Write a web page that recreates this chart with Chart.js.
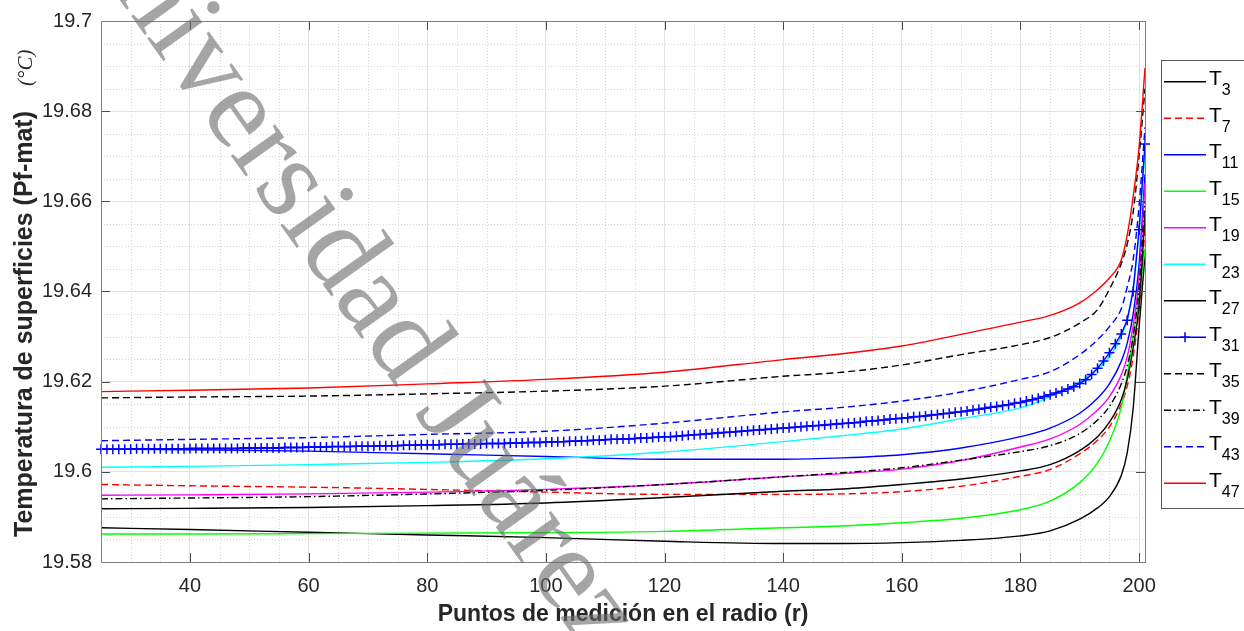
<!DOCTYPE html>
<html lang="es">
<head>
<meta charset="utf-8">
<title>Temperatura de superficies (Pf-mat)</title>
<script src="https://cdn.jsdelivr.net/npm/chart.js@4.4.1/dist/chart.umd.min.js"></script>
<style>
  html, body { margin: 0; padding: 0; background: #fff; }
  #grafica { display: block; }
</style>
</head>
<body>
<canvas id="grafica" width="1244" height="631"></canvas>
<script>
// puntos de medición en el radio (r) usados para las curvas suaves
const radio = [25, 40, 60, 80, 100, 120, 140, 150, 160, 170, 180, 185, 190, 193, 195, 197, 198, 199, 200, 201];

// T31 se dibuja con marcador en cada punto del radio
const radioT31 = [
  25, 26, 27, 28, 29, 30, 31, 32, 33, 34,
  35, 36, 37, 38, 39, 40, 41, 42, 43, 44,
  45, 46, 47, 48, 49, 50, 51, 52, 53, 54,
  55, 56, 57, 58, 59, 60, 61, 62, 63, 64,
  65, 66, 67, 68, 69, 70, 71, 72, 73, 74,
  75, 76, 77, 78, 79, 80, 81, 82, 83, 84,
  85, 86, 87, 88, 89, 90, 91, 92, 93, 94,
  95, 96, 97, 98, 99, 100, 101, 102, 103, 104,
  105, 106, 107, 108, 109, 110, 111, 112, 113, 114,
  115, 116, 117, 118, 119, 120, 121, 122, 123, 124,
  125, 126, 127, 128, 129, 130, 131, 132, 133, 134,
  135, 136, 137, 138, 139, 140, 141, 142, 143, 144,
  145, 146, 147, 148, 149, 150, 151, 152, 153, 154,
  155, 156, 157, 158, 159, 160, 161, 162, 163, 164,
  165, 166, 167, 168, 169, 170, 171, 172, 173, 174,
  175, 176, 177, 178, 179, 180, 181, 182, 183, 184,
  185, 186, 187, 188, 189, 190, 191, 192, 193, 194,
  195, 196, 197, 198, 199, 200, 201
];

// temperaturas (°C)
const T3  = [19.5876, 19.5872, 19.5866, 19.5860, 19.5854, 19.5846, 19.5841, 19.5841, 19.5843, 19.5848, 19.5858, 19.5869, 19.5895, 19.5920, 19.5945, 19.5992, 19.6042, 19.6140, 19.6320, 19.6480];
const T7  = [19.5972, 19.5969, 19.5966, 19.5961, 19.5955, 19.5950, 19.5950, 19.5951, 19.5956, 19.5968, 19.5990, 19.6005, 19.6040, 19.6070, 19.6100, 19.6150, 19.6190, 19.6255, 19.6360, 19.6540];
const T11 = [19.6050, 19.6049, 19.6046, 19.6040, 19.6034, 19.6028, 19.6028, 19.6031, 19.6038, 19.6053, 19.6078, 19.6097, 19.6130, 19.6163, 19.6195, 19.6245, 19.6285, 19.6350, 19.6460, 19.6660];
const T15 = [19.5862, 19.5862, 19.5863, 19.5864, 19.5865, 19.5868, 19.5876, 19.5880, 19.5887, 19.5897, 19.5916, 19.5935, 19.5976, 19.6020, 19.6068, 19.6143, 19.6215, 19.6300, 19.6390, 19.6495];
const T19 = [19.5948, 19.5949, 19.5951, 19.5955, 19.5961, 19.5972, 19.5989, 19.5996, 19.6006, 19.6025, 19.6055, 19.6073, 19.6105, 19.6137, 19.6167, 19.6215, 19.6255, 19.6325, 19.6430, 19.6640];
const T23 = [19.6010, 19.6012, 19.6016, 19.6021, 19.6029, 19.6044, 19.6067, 19.6080, 19.6095, 19.6118, 19.6142, 19.6167, 19.6200, 19.6228, 19.6255, 19.6300, 19.6340, 19.6410, 19.6530, 19.6710];
const T27 = [19.5918, 19.5919, 19.5921, 19.5925, 19.5931, 19.5943, 19.5957, 19.5962, 19.5972, 19.5984, 19.6002, 19.6016, 19.6047, 19.6078, 19.6110, 19.6160, 19.6205, 19.6275, 19.6370, 19.6570];
const T31 = [
  19.6050, 19.6050, 19.6050, 19.6050, 19.6050, 19.6050, 19.6051, 19.6051, 19.6051, 19.6051,
  19.6051, 19.6051, 19.6051, 19.6051, 19.6051, 19.6052, 19.6052, 19.6052, 19.6052, 19.6052,
  19.6052, 19.6052, 19.6052, 19.6052, 19.6053, 19.6053, 19.6053, 19.6053, 19.6053, 19.6053,
  19.6053, 19.6054, 19.6054, 19.6054, 19.6054, 19.6055, 19.6055, 19.6055, 19.6055, 19.6056,
  19.6056, 19.6056, 19.6056, 19.6057, 19.6057, 19.6057, 19.6057, 19.6058, 19.6058, 19.6058,
  19.6058, 19.6059, 19.6059, 19.6059, 19.6060, 19.6060, 19.6060, 19.6060, 19.6061, 19.6061,
  19.6061, 19.6062, 19.6062, 19.6062, 19.6062, 19.6063, 19.6063, 19.6063, 19.6063, 19.6064,
  19.6064, 19.6064, 19.6065, 19.6065, 19.6065, 19.6066, 19.6066, 19.6067, 19.6067, 19.6068,
  19.6068, 19.6069, 19.6069, 19.6070, 19.6070, 19.6071, 19.6072, 19.6072, 19.6073, 19.6073,
  19.6074, 19.6075, 19.6075, 19.6076, 19.6077, 19.6078, 19.6078, 19.6079, 19.6080, 19.6081,
  19.6082, 19.6083, 19.6084, 19.6085, 19.6086, 19.6087, 19.6088, 19.6089, 19.6090, 19.6091,
  19.6092, 19.6093, 19.6094, 19.6095, 19.6096, 19.6097, 19.6098, 19.6099, 19.6100, 19.6101,
  19.6102, 19.6103, 19.6104, 19.6105, 19.6106, 19.6107, 19.6108, 19.6109, 19.6110, 19.6112,
  19.6113, 19.6114, 19.6115, 19.6117, 19.6118, 19.6119, 19.6120, 19.6122, 19.6123, 19.6124,
  19.6126, 19.6127, 19.6129, 19.6130, 19.6132, 19.6133, 19.6135, 19.6137, 19.6139, 19.6141,
  19.6143, 19.6145, 19.6147, 19.6149, 19.6152, 19.6154, 19.6157, 19.6160, 19.6163, 19.6167,
  19.6171, 19.6175, 19.6179, 19.6184, 19.6189, 19.6196, 19.6204, 19.6216, 19.6230, 19.6246,
  19.6264, 19.6284, 19.6306, 19.6336, 19.6400, 19.6537, 19.6727
];
const T35 = [19.6164, 19.6166, 19.6168, 19.6173, 19.6179, 19.6190, 19.6212, 19.6221, 19.6237, 19.6260, 19.6282, 19.6298, 19.6330, 19.6360, 19.6405, 19.6462, 19.6505, 19.6575, 19.6700, 19.6850];
const T39 = [19.5940, 19.5942, 19.5945, 19.5951, 19.5959, 19.5972, 19.5989, 19.5998, 19.6009, 19.6026, 19.6045, 19.6058, 19.6085, 19.6115, 19.6145, 19.6195, 19.6235, 19.6300, 19.6410, 19.6600];
const T43 = [19.6069, 19.6072, 19.6076, 19.6083, 19.6090, 19.6108, 19.6133, 19.6143, 19.6157, 19.6177, 19.6205, 19.6222, 19.6260, 19.6293, 19.6322, 19.6362, 19.6410, 19.6470, 19.6590, 19.6764];
const T47 = [19.6178, 19.6181, 19.6186, 19.6195, 19.6205, 19.6221, 19.6249, 19.6262, 19.6279, 19.6305, 19.6332, 19.6347, 19.6375, 19.6404, 19.6430, 19.6470, 19.6525, 19.6610, 19.6720, 19.6896];

// marcas de los ejes
const ticksX = [40, 60, 80, 100, 120, 140, 160, 180, 200];
const ticksY = [19.58, 19.6, 19.62, 19.64, 19.66, 19.68, 19.7];

const FUENTE = '"Liberation Sans", Arial, Helvetica, sans-serif';
const DISCONTINUA = [7, 4];
const PUNTO_RAYA = [7, 3, 1.5, 3];

function serie(nombre, xs, ys, color, dash, extra) {
  return Object.assign({
    label: nombre,
    data: xs.map((x, i) => ({ x: x, y: ys[i] })),
    borderColor: color,
    backgroundColor: color,
    borderWidth: 1.4,
    borderDash: dash,
    pointRadius: 0,
    pointHoverRadius: 0,
    cubicInterpolationMode: 'monotone',
    fill: false
  }, extra || {});
}

const series = [
  serie('3',  radio, T3,  '#000000', []),
  serie('7',  radio, T7,  '#ff0000', DISCONTINUA),
  serie('11', radio, T11, '#0000ff', []),
  serie('15', radio, T15, '#00ff00', []),
  serie('19', radio, T19, '#ff00ff', []),
  serie('23', radio, T23, '#00ffff', []),
  serie('27', radio, T27, '#000000', []),
  serie('31', radioT31, T31, '#0000ff', [], {
    pointStyle: 'cross', pointRadius: 5, pointBorderWidth: 1.5,
    cubicInterpolationMode: 'default', tension: 0, clip: false
  }),
  serie('35', radio, T35, '#000000', DISCONTINUA),
  serie('39', radio, T39, '#000000', PUNTO_RAYA),
  serie('43', radio, T43, '#0000ff', DISCONTINUA),
  serie('47', radio, T47, '#ff0000', [])
];
// la última serie trazada queda encima
series.forEach((s, i) => { s.order = series.length - i; });

// rejilla menor, caja con marcas interiores, títulos, leyenda y marca de agua
const estiloMatlab = {
  id: 'estiloMatlab',
  beforeDatasetsDraw(chart) {
    const { ctx, chartArea: a, scales: { x, y } } = chart;
    ctx.save();
    ctx.strokeStyle = '#d6d6d6';
    ctx.lineWidth = 1;
    ctx.setLineDash([1, 2]);
    ctx.beginPath();
    for (let v = 30; v < 201; v += 5) {
      if (v % 20 === 0) continue;
      const px = Math.round(x.getPixelForValue(v)) + 0.5;
      ctx.moveTo(px, a.top);
      ctx.lineTo(px, a.bottom);
    }
    for (let k = 1; k < 24; k++) {
      if (k % 4 === 0) continue;
      const py = Math.round(y.getPixelForValue(19.58 + k * 0.005)) + 0.5;
      ctx.moveTo(a.left, py);
      ctx.lineTo(a.right, py);
    }
    ctx.stroke();
    ctx.restore();
  },
  afterDatasetsDraw(chart) {
    const { ctx, chartArea: a, scales: { x, y } } = chart;
    ctx.save();
    ctx.setLineDash([]);
    ctx.lineWidth = 1;
    ctx.strokeStyle = '#4a4a4a';
    ctx.beginPath();
    ticksX.forEach(v => {
      const px = Math.round(x.getPixelForValue(v)) + 0.5;
      ctx.moveTo(px, a.bottom); ctx.lineTo(px, a.bottom - 9);
      ctx.moveTo(px, a.top); ctx.lineTo(px, a.top + 9);
    });
    ticksY.forEach(v => {
      const py = Math.round(y.getPixelForValue(v)) + 0.5;
      ctx.moveTo(a.left, py); ctx.lineTo(a.left + 9, py);
      ctx.moveTo(a.right, py); ctx.lineTo(a.right - 9, py);
    });
    ctx.stroke();
    ctx.strokeStyle = '#808080';
    ctx.strokeRect(Math.round(a.left) + 0.5, Math.round(a.top) + 0.5,
      Math.round(a.right - a.left), Math.round(a.bottom - a.top));
    ctx.restore();
  },
  afterDraw(chart) {
    const ctx = chart.ctx;
    ctx.save();
    ctx.fillStyle = '#262626';

    // título del eje x
    ctx.font = 'bold 23px ' + FUENTE;
    ctx.textAlign = 'center';
    ctx.textBaseline = 'alphabetic';
    ctx.fillText('Puntos de medición en el radio (r)', 623, 621);

    // título del eje y
    ctx.save();
    ctx.translate(32, 0);
    ctx.rotate(-Math.PI / 2);
    ctx.font = 'bold 25px ' + FUENTE;
    ctx.textAlign = 'center';
    ctx.fillText('Temperatura de superficies (Pf-mat)', -324, 0);
    ctx.font = 'italic 21px "Liberation Serif", "Times New Roman", serif';
    ctx.textAlign = 'left';
    ctx.fillText('(°C)', -86, 0);
    ctx.restore();

    // leyenda
    ctx.fillStyle = '#ffffff';
    ctx.fillRect(1161, 60, 100, 448);
    ctx.strokeStyle = '#595959';
    ctx.lineWidth = 1;
    ctx.strokeRect(1161.5, 60.5, 100, 448);
    chart.data.datasets.forEach((ds, i) => {
      const yc = 81.7 + i * 36.5;
      ctx.strokeStyle = ds.borderColor;
      ctx.lineWidth = 1.4;
      ctx.setLineDash(ds.borderDash);
      ctx.beginPath();
      ctx.moveTo(1164, yc);
      ctx.lineTo(1206, yc);
      ctx.stroke();
      ctx.setLineDash([]);
      if (ds.pointStyle === 'cross') {
        ctx.lineWidth = 1.5;
        ctx.beginPath();
        ctx.moveTo(1185, yc - 5); ctx.lineTo(1185, yc + 5);
        ctx.moveTo(1180, yc); ctx.lineTo(1190, yc);
        ctx.stroke();
      }
      ctx.fillStyle = '#000000';
      ctx.textAlign = 'left';
      ctx.font = '21px ' + FUENTE;
      ctx.fillText('T', 1209, yc + 3.5);
      const wT = ctx.measureText('T').width;
      ctx.font = '16px ' + FUENTE;
      ctx.fillText(ds.label, 1209 + wT, yc + 13.5);
    });

    // marca de agua
    ctx.save();
    ctx.translate(62, -81);
    ctx.rotate(54.5 * Math.PI / 180);
    ctx.font = '118px "Liberation Serif", "Times New Roman", serif';
    ctx.fillStyle = 'rgba(105, 105, 105, 0.6)';
    ctx.textAlign = 'left';
    ctx.fillText('Universidad Juárez', 0, 0);
    ctx.restore();

    ctx.restore();
  }
};

new Chart(document.getElementById('grafica').getContext('2d'), {
  type: 'line',
  data: { datasets: series },
  plugins: [estiloMatlab],
  options: {
    responsive: false,
    devicePixelRatio: 1,
    animation: false,
    events: [],
    layout: { padding: { left: 0, top: 18, right: 99, bottom: 0 } },
    plugins: {
      legend: { display: false },
      tooltip: { enabled: false },
      title: { display: false }
    },
    scales: {
      x: {
        type: 'linear',
        min: 25,
        max: 201,
        afterFit(scale) { scale.height = 69; },
        border: { display: false },
        grid: { color: '#e2e2e2', lineWidth: 1, drawTicks: false },
        ticks: {
          stepSize: 20,
          includeBounds: false,
          autoSkip: false,
          maxRotation: 0,
          padding: 12,
          color: '#262626',
          font: { family: FUENTE, size: 20 }
        }
      },
      y: {
        type: 'linear',
        min: 19.58,
        max: 19.7,
        afterFit(scale) { scale.width = 101; },
        border: { display: false },
        grid: { color: '#e2e2e2', lineWidth: 1, drawTicks: false },
        ticks: {
          stepSize: 0.02,
          padding: 9,
          color: '#262626',
          font: { family: FUENTE, size: 20 },
          callback: v => String(parseFloat(Number(v).toFixed(2)))
        }
      }
    }
  }
});
</script>
</body>
</html>
